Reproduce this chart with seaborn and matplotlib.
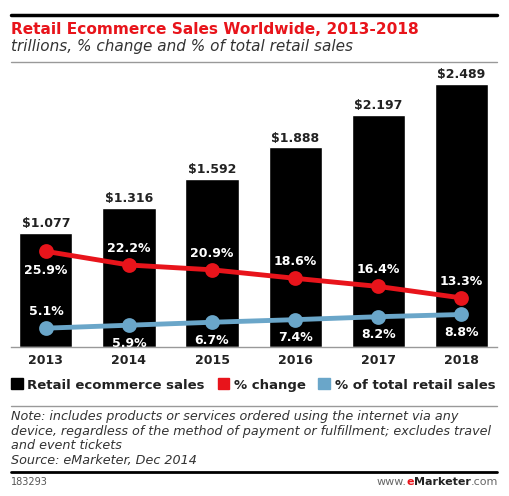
import matplotlib
matplotlib.use("Agg")
import matplotlib.pyplot as plt
import matplotlib.patches as mpatches
from matplotlib.lines import Line2D
from matplotlib.offsetbox import TextArea, HPacker, AnchoredOffsetbox
import seaborn as sns
import pandas as pd

years = ["2013", "2014", "2015", "2016", "2017", "2018"]
sales = [1.077, 1.316, 1.592, 1.888, 2.197, 2.489]
pct_change = [25.9, 22.2, 20.9, 18.6, 16.4, 13.3]
pct_total = [5.1, 5.9, 6.7, 7.4, 8.2, 8.8]

RED = "#e8141b"
BLUE = "#6aa6c9"

df = pd.DataFrame({"year": years, "sales": sales,
                   "change": pct_change, "total": pct_total})

sns.set_style("white")
plt.rcParams["font.family"] = ["DejaVu Sans"]

W, H = 509, 496
fig = plt.figure(figsize=(W / 100, H / 100), dpi=100)

# axes box in pixel coords: left 11, right 497, top 70, bottom 347
ax = fig.add_axes([11 / W, (H - 347) / H, (497 - 11) / W, (347 - 70) / H])

sns.barplot(data=df, x="year", y="sales", color="black", width=0.64,
            saturation=1, ax=ax)
ax.bar_label(ax.containers[0], labels=[f"${v:.3f}" for v in sales],
             padding=2, fontsize=9, fontweight="bold", color="#222222")
ax.set_ylim(0, 2.62)
ax.set_xlim(-0.42, 5.43)
ax.set_xlabel("")
ax.set_ylabel("")
ax.set_yticks([])
for s in ["top", "left", "right"]:
    ax.spines[s].set_visible(False)
ax.spines["bottom"].set_color("#999999")
ax.spines["bottom"].set_linewidth(1)
ax.tick_params(axis="x", length=0, pad=5)
for lbl in ax.get_xticklabels():
    lbl.set_fontweight("bold")
    lbl.set_fontsize(9)
    lbl.set_color("#222222")

# percentage lines on a secondary scale
ax2 = ax.twinx()
sns.pointplot(data=df, x="year", y="change", color=RED, ax=ax2,
              markers="o", markersize=8, linewidth=3.5)
sns.pointplot(data=df, x="year", y="total", color=BLUE, ax=ax2,
              markers="o", markersize=8, linewidth=3.5)
ax2.set_ylim(0, 75)
ax2.set_xlim(-0.42, 5.43)
ax2.set_yticks([])
ax2.set_ylabel("")
for s in ["top", "left", "right", "bottom"]:
    ax2.spines[s].set_visible(False)

for i, v in enumerate(pct_change):
    off = -14 if i == 0 else 12
    ax2.annotate(f"{v:.1f}%", (i, v), xytext=(0, off), textcoords="offset points",
                 ha="center", va="center", color="white", fontsize=9,
                 fontweight="bold")
for i, v in enumerate(pct_total):
    off = 12 if i == 0 else -13
    ax2.annotate(f"{v:.1f}%", (i, v), xytext=(0, off), textcoords="offset points",
                 ha="center", va="center", color="white", fontsize=9,
                 fontweight="bold")

# legend
handles = [mpatches.Patch(color="black", label="Retail ecommerce sales"),
           mpatches.Patch(color=RED, label="% change"),
           mpatches.Patch(color=BLUE, label="% of total retail sales")]
leg = fig.legend(handles=handles, loc="center left", ncol=3,
                 bbox_to_anchor=(11 / W, (H - 385) / H), frameon=False,
                 handlelength=0.9, handleheight=0.9, handletextpad=0.35,
                 columnspacing=0.95, borderaxespad=0, borderpad=0,
                 prop={"weight": "bold", "size": 9.5})
for t in leg.get_texts():
    t.set_color("#222222")

# header
fig.add_artist(Line2D([11 / W, 497 / W], [(H - 15) / H] * 2, color="black", lw=2.5))
fig.text(11 / W, (H - 30) / H, "Retail Ecommerce Sales Worldwide, 2013-2018",
         color=RED, fontsize=11.1, fontweight="bold", va="center", ha="left")
fig.text(11 / W, (H - 47) / H, "trillions, % change and % of total retail sales",
         color="#333333", fontsize=11, style="italic", va="center", ha="left")
fig.add_artist(Line2D([11 / W, 497 / W], [(H - 62) / H] * 2, color="#999999", lw=1))

# footer
fig.add_artist(Line2D([11 / W, 497 / W], [(H - 406) / H] * 2, color="#999999", lw=1))
note = ("Note: includes products or services ordered using the internet via any\n"
        "device, regardless of the method of payment or fulfillment; excludes travel\n"
        "and event tickets\n"
        "Source: eMarketer, Dec 2014")
fig.text(11 / W, (H - 410) / H, note, color="#333333", fontsize=9.2,
         style="italic", va="top", ha="left", linespacing=1.16)
fig.add_artist(Line2D([11 / W, 497 / W], [(H - 472) / H] * 2, color="black", lw=2))
fig.text(11 / W, (H - 482) / H, "183293", color="#555555", fontsize=7,
         va="center", ha="left")

parts = [TextArea("www.", textprops=dict(color="#666666", fontsize=8)),
         TextArea("e", textprops=dict(color=RED, fontsize=8, fontweight="bold")),
         TextArea("Marketer", textprops=dict(color="#222222", fontsize=8, fontweight="bold")),
         TextArea(".com", textprops=dict(color="#666666", fontsize=8))]
box = HPacker(children=parts, align="baseline", pad=0, sep=0)
anchored = AnchoredOffsetbox(loc="center right", child=box, frameon=False, pad=0,
                             borderpad=0, bbox_to_anchor=(498 / W, (H - 482) / H),
                             bbox_transform=fig.transFigure)
fig.add_artist(anchored)

fig.savefig("out.png", dpi=100, facecolor="white")
